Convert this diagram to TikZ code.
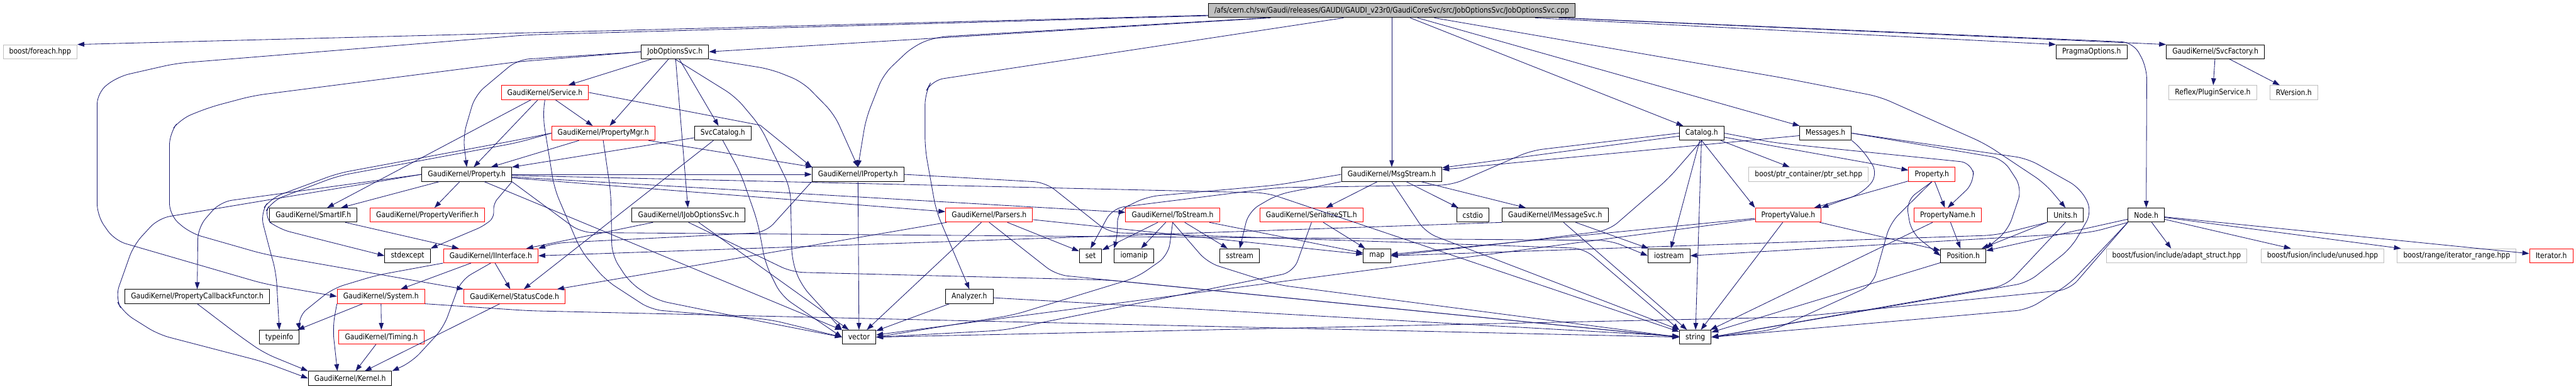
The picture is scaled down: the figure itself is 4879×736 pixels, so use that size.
\documentclass[tikz,border=0pt]{standalone}
\usepackage{fontspec}
\setmainfont{DejaVu Sans}[FakeStretch=0.875]
\usetikzlibrary{arrows.meta}
\definecolor{depblue}{HTML}{191970}
\definecolor{extgrey}{HTML}{BFBFBF}
\definecolor{rootgrey}{HTML}{BFBFBF}
\tikzset{
  font=\fontsize{14.7}{17}\selectfont,
  inc/.style={
    draw=#1, fill=white, line width=1.2pt,
    minimum height=26.5pt, inner xsep=11.5pt, inner ysep=0pt
  },
  inc/.default=black,
  rootinc/.style={inc, fill=rootgrey},
  dep/.style={draw=depblue, line width=1pt, -{Triangle[length=13pt,width=9pt]}},
  bent/.style={dep, rounded corners=#1},
  bent/.default=22pt
}
\begin{document}
\begin{tikzpicture}[x=1pt,y=-1pt]
  \useasboundingbox (0,0) rectangle (4879,736);
  \node[rootinc] (root) at (2636,20) {/afs/cern.ch/sw/Gaudi/releases/GAUDI/GAUDI\_v23r0/GaudiCoreSvc/src/JobOptionsSvc/JobOptionsSvc.cpp};
  \node[inc=extgrey] (foreach) at (76,98) {boost/foreach.hpp};
  \node[inc] (jos) at (1278.5,98) {JobOptionsSvc.h};
  \node[inc] (pragma) at (3961.5,98) {PragmaOptions.h};
  \node[inc] (svcfac) at (4196,98) {GaudiKernel/SvcFactory.h};
  \node[inc=red] (service) at (1032,175) {GaudiKernel/Service.h};
  \node[inc=extgrey] (plugin) at (4191,175) {Reflex/PluginService.h};
  \node[inc=extgrey] (rversion) at (4344.5,175) {RVersion.h};
  \node[inc=red] (propmgr) at (1142.5,252) {GaudiKernel/PropertyMgr.h};
  \node[inc] (svccat) at (1369,252) {SvcCatalog.h};
  \node[inc] (catalog) at (3223,252) {Catalog.h};
  \node[inc] (messages) at (3457.5,252) {Messages.h};
  \node[inc] (gkprop) at (884,330) {GaudiKernel/Property.h};
  \node[inc] (iprop) at (1625,330) {GaudiKernel/IProperty.h};
  \node[inc] (msgstream) at (2636,330) {GaudiKernel/MsgStream.h};
  \node[inc=extgrey] (ptrset) at (3425.5,330) {boost/ptr\_container/ptr\_set.hpp};
  \node[inc=red] (locprop) at (3659,330) {Property.h};
  \node[inc] (smartif) at (593.5,407) {GaudiKernel/SmartIF.h};
  \node[inc=red] (propver) at (809.5,407) {GaudiKernel/PropertyVerifier.h};
  \node[inc] (ijos) at (1304,407) {GaudiKernel/IJobOptionsSvc.h};
  \node[inc=red] (parsers) at (1873.5,407) {GaudiKernel/Parsers.h};
  \node[inc=red] (tostream) at (2221,407) {GaudiKernel/ToStream.h};
  \node[inc=red] (serstl) at (2484,407) {GaudiKernel/SerializeSTL.h};
  \node[inc] (cstdio) at (2789.5,407) {cstdio};
  \node[inc] (imsgsvc) at (2945.5,407) {GaudiKernel/IMessageSvc.h};
  \node[inc=red] (propval) at (3387,407) {PropertyValue.h};
  \node[inc=red] (propname) at (3689,407) {PropertyName.h};
  \node[inc] (units) at (3912,407) {Units.h};
  \node[inc] (hnode) at (4065,407) {Node.h};
  \node[inc] (stdexcept) at (772,484) {stdexcept};
  \node[inc=red] (iiface) at (929.5,484) {GaudiKernel/IInterface.h};
  \node[inc] (hset) at (2065.5,484) {set};
  \node[inc] (iomanip) at (2148,484) {iomanip};
  \node[inc] (sstream) at (2348,484) {sstream};
  \node[inc] (hmap) at (2608,484) {map};
  \node[inc] (hiostream) at (3161,484) {iostream};
  \node[inc] (position) at (3718.5,484) {Position.h};
  \node[inc=extgrey] (adapt) at (4122.5,484) {boost/fusion/include/adapt\_struct.hpp};
  \node[inc=extgrey] (unused) at (4399,484) {boost/fusion/include/unused.hpp};
  \node[inc=extgrey] (itrange) at (4653,484) {boost/range/iterator\_range.hpp};
  \node[inc=red] (iterator) at (4832,484) {Iterator.h};
  \node[inc] (pcf) at (373.5,561) {GaudiKernel/PropertyCallbackFunctor.h};
  \node[inc=red] (system) at (721.5,561) {GaudiKernel/System.h};
  \node[inc=red] (statuscode) at (974.5,561) {GaudiKernel/StatusCode.h};
  \node[inc] (analyzer) at (1836,561) {Analyzer.h};
  \node[inc] (typeinfo) at (529,638) {typeinfo};
  \node[inc=red] (timing) at (722.5,638) {GaudiKernel/Timing.h};
  \node[inc] (hvector) at (1627,638) {vector};
  \node[inc] (hstring) at (3211,638) {string};
  \node[inc] (kernel) at (663,716) {GaudiKernel/Kernel.h};

  \draw[dep] (root) -- (foreach.north east);
  \draw[dep] (root) -- (jos.east);
  \draw[dep] (root) -- (pragma.north west);
  \draw[dep] (root) -- (svcfac.north west);
  \foreach \t in {msgstream,catalog,messages} \draw[dep] (root) -- (\t);
  \draw[bent] (root) -- (3380,148) -- (3560,183) -- (3760,272) -- (3873,347) -- (units.north);
  \draw[bent] (root) -- (4040,80) -- (4066,127) -- (hnode.north);
  \draw[bent] (root) -- (1773,70) -- (1730,87) -- (1673,141) -- (1640,225) -- (iprop.north);
  \draw[bent] (root) -- (1765,152) -- (1752,176) -- (1752,281) -- (1773,399) -- (analyzer.north);
  \draw[bent] (root) -- (1000,66) -- (333,120) -- (223,145) -- (184,175) -- (184,408) -- (217,455) -- (500,537) -- (system.west);

  \foreach \t in {service,propmgr,svccat,ijos} \draw[dep] (jos) -- (\t);
  \draw[bent] (jos.west) -- (980,113) -- (900,180) -- (877,258) -- (gkprop.north);
  \draw[bent] (jos.west) -- (980,117) -- (480,181) -- (397,203) -- (342,225) -- (321,252) -- (321,407) -- (360,441) -- (500,481) -- (statuscode.north west);
  \draw[bent] (jos.south east) -- (1460,131) -- (1520,155) -- (1580,216) -- (iprop.north);
  \draw[bent] (jos.south) -- (1393,183) -- (1440,239) -- (1497,356) -- (1500,493) -- (1517,539) -- (hvector.north west);

  \foreach \t in {propmgr,gkprop,smartif} \draw[dep] (service) -- (\t);
  \draw[dep] (service.east) -- (1440,237) -- (iprop.north west);
  \draw[bent] (service.south) -- (1028,220) -- (1050,357) -- (1100,474) -- (1147,530) -- (1233,586) -- (1460,605) -- (hvector.west);

  \foreach \t in {gkprop,iprop} \draw[dep] (propmgr) -- (\t);
  \draw[bent] (propmgr.south) -- (1157,366) -- (1159,483) -- (1193,535) -- (1243,568) -- (1460,612) -- (hvector.west);
  \draw[bent] (propmgr.west) -- (980,265) -- (640,328) -- (513,375) -- (493,403) -- (510,469) -- (523,516) -- (typeinfo.north);
  \draw[bent] (propmgr.west) -- (980,270) -- (640,333) -- (515,380) -- (498,410) -- (527,433) -- (613,455) -- (stdexcept.west);

  \draw[dep] (svccat) -- (gkprop);
  \draw[dep] (svccat) -- (statuscode);
  \draw[bent] (svccat.south) -- (1403,328) -- (1435,420) -- (1450,500) -- (1480,560) -- (hvector.west);

  \foreach \t in {smartif,propver,iprop,parsers,tostream,hvector} \draw[dep] (gkprop) -- (\t);
  \draw[bent] (gkprop.west) -- (417,382) -- (375,430) -- (pcf.north);
  \draw[bent] (gkprop.west) -- (300,413) -- (253,464) -- (218,563) -- (233,591) -- (300,633) -- (500,685) -- (kernel.west);
  \draw[bent=10pt] (gkprop.south east) -- (935,385) -- (935,413) -- (913,429) -- (stdexcept.north east);
  \draw[bent] (gkprop) -- (2400,365) -- (hstring);
  \draw[bent] (gkprop.south east) -- (1100,440) -- (3050,455) -- (hiostream.west);

  \draw[dep] (iprop) -- (hvector);
  \draw[bent] (iprop.south west) -- (1450,440) -- (1050,460) -- (iiface.north east);
  \draw[bent] (iprop.east) -- (1980,345) -- (2100,440) -- (3000,470) -- (hstring.north west);

  \draw[dep] (smartif) -- (iiface);
  \draw[dep] (ijos) -- (iiface);
  \draw[dep] (ijos) -- (hvector);
  \draw[bent] (ijos.south) -- (1500,515) -- (2100,530) -- (hstring.west);

  \foreach \t in {system,statuscode} \draw[dep] (iiface) -- (\t);
  \draw[bent] (iiface.south west) -- (713,521) -- (630,546) -- (563,600) -- (typeinfo.north east);
  \draw[bent] (iiface.south) -- (873,530) -- (840,620) -- (780,685) -- (kernel.north east);

  \draw[dep] (system) -- (typeinfo);
  \draw[dep] (system) -- (timing);
  \draw[bent] (system.south west) -- (630,620) -- (kernel.150);
  \draw[bent] (system.south east) -- (1000,588) -- (hstring.west);
  \draw[dep] (timing) -- (kernel);
  \draw[dep] (statuscode) -- (kernel);
  \draw[bent] (pcf.south) -- (450,633) -- (500,668) -- (kernel.north west);

  \foreach \t in {statuscode,hvector,hset,hmap} \draw[dep] (parsers) -- (\t);
  \draw[bent] (parsers.south) -- (2000,520) -- (hstring.west);

  \foreach \t in {hset,iomanip,sstream,hmap} \draw[dep] (tostream) -- (\t);
  \draw[bent] (tostream.south) -- (2213,483) -- (2153,525) -- (1920,596) -- (hvector.east);
  \draw[bent] (tostream.south) -- (2287,497) -- (2420,539) -- (hstring.west);

  \draw[dep] (serstl) -- (hmap);
  \draw[bent] (serstl.south) -- (2450,515) -- (2300,545) -- (1900,625) -- (hvector.east);

  \foreach \t in {serstl,cstdio,imsgsvc} \draw[dep] (msgstream) -- (\t);
  \draw[bent] (msgstream.west) -- (2420,350) -- (2173,372) -- (2115,400) -- (2118,440) -- (iomanip.north west);
  \draw[bent] (msgstream.south west) -- (2420,368) -- (2365,400) -- (sstream.north);
  \draw[bent] (msgstream.south) -- (2700,440) -- (hstring.north west);

  \draw[dep] (imsgsvc.south west) -- (iiface.east);
  \draw[dep] (imsgsvc) -- (hiostream);
  \draw[dep] (imsgsvc) -- (hstring);

  \foreach \t in {msgstream,ptrset,locprop,hiostream,hstring} \draw[dep] (catalog) -- (\t);
  \draw[dep] (catalog.south) -- (propval.north west);
  \draw[bent] (catalog.east) -- (3360,270) -- (3735,308) -- (3740,345) -- (propname.north);
  \draw[bent] (catalog.south) -- (3160,338) -- (3047,436) -- (2880,457) -- (hmap.east);
  \draw[bent] (catalog.west) -- (2900,285) -- (2750,350) -- (2420,355) -- (2107,394) -- (hset.north);

  \draw[dep] (messages) -- (msgstream);
  \draw[bent] (messages.south east) -- (3527,282) -- (3558,330) -- (3527,366) -- (propval.north east);
  \draw[bent] (messages.east) -- (3793,300) -- (3830,356) -- (3803,436) -- (position.north east);
  \draw[bent] (messages.east) -- (3840,300) -- (3940,356) -- (3963,400) -- (3923,469) -- (3840,535) -- (hstring.east);

  \draw[dep] (locprop) -- (propname);
  \draw[dep] (locprop) -- (propval);
  \draw[bent] (locprop.south) -- (3610,380) -- (3620,440) -- (position.west);
  \draw[bent] (locprop.south) -- (3580,422) -- (3547,539) -- (3360,624) -- (hstring.east);

  \draw[dep] (propname) -- (position);
  \draw[dep] (propname) -- (hstring);
  \foreach \t in {position,hstring,hvector,hmap} \draw[dep] (propval) -- (\t);
  \draw[dep] (position) -- (hstring);

  \draw[dep] (units) -- (position);
  \draw[bent] (units.south) -- (3800,540) -- (hstring.east);
  \draw[bent] (units.south west) -- (3780,445) -- (hmap.east);

  \foreach \t in {adapt,unused,itrange,iterator,position} \draw[dep] (hnode) -- (\t);
  \draw[bent] (hnode.south west) -- (3920,537) -- (3840,586) -- (hstring.east);
  \draw[bent] (hnode.south west) -- (3920,548) -- (3400,600) -- (hvector.east);
  \draw[bent] (hnode.south west) -- (3960,440) -- (hiostream.east);

  \draw[dep] (analyzer) -- (hvector);
  \draw[dep] (analyzer) -- (hstring);
  \draw[dep] (svcfac) -- (plugin);
  \draw[dep] (svcfac) -- (rversion);
\end{tikzpicture}
\end{document}
